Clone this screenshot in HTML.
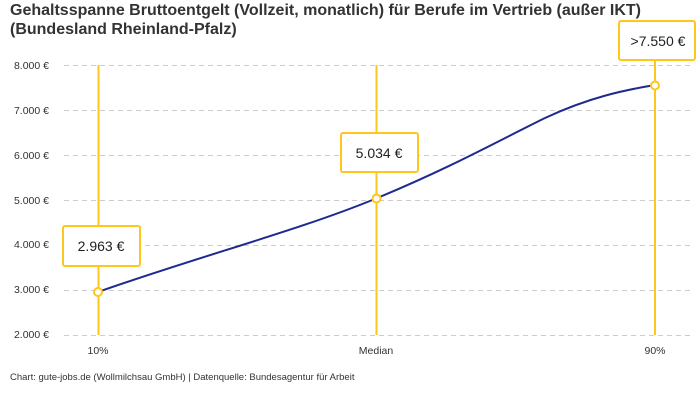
<!DOCTYPE html>
<html><head><meta charset="utf-8"><style>
body{margin:0;background:#fff;}
svg{display:block;font-family:"Liberation Sans",sans-serif;}
</style></head><body>
<svg width="700" height="400" viewBox="0 0 700 400">
<text x="10" y="15" font-size="16" font-weight="bold" fill="#333" textLength="631" lengthAdjust="spacingAndGlyphs">Gehaltsspanne Bruttoentgelt (Vollzeit, monatlich) für Berufe im Vertrieb (außer IKT)</text>
<text x="10" y="34" font-size="16" font-weight="bold" fill="#333">(Bundesland Rheinland-Pfalz)</text>
<g stroke="#ccc" stroke-dasharray="5,4" stroke-width="1">
<line x1="64" x2="690" y1="65.5" y2="65.5"/><line x1="64" x2="690" y1="110.5" y2="110.5"/>
<line x1="64" x2="690" y1="155.5" y2="155.5"/><line x1="64" x2="690" y1="200.5" y2="200.5"/>
<line x1="64" x2="690" y1="245.5" y2="245.5"/><line x1="64" x2="690" y1="290.5" y2="290.5"/>
<line x1="64" x2="690" y1="335.5" y2="335.5"/>
</g>
<g font-size="10.5" fill="#333" text-anchor="end">
<text x="49" y="69">8.000 €</text><text x="49" y="114">7.000 €</text><text x="49" y="159">6.000 €</text>
<text x="49" y="204">5.000 €</text><text x="49" y="248">4.000 €</text><text x="49" y="293">3.000 €</text>
<text x="49" y="338">2.000 €</text>
</g>
<g stroke="#FFC61E" stroke-width="2">
<line x1="98.5" x2="98.5" y1="65" y2="335"/><line x1="376.5" x2="376.5" y1="65" y2="335"/><line x1="655" x2="655" y1="60" y2="335"/>
</g>
<path d="M98,292 C200,256 300,230 376,198.5 C450,168 500,140 545,118 C590,97 625,90 655,85" fill="none" stroke="#1f2a8f" stroke-width="2"/>
<g fill="#fff" stroke="#FFC61E" stroke-width="2">
<circle cx="98" cy="292" r="4"/><circle cx="376.5" cy="198.5" r="4"/><circle cx="655" cy="85.5" r="4"/>
<rect x="63" y="226" width="77" height="40" rx="2"/>
<rect x="341" y="133" width="77" height="39" rx="2"/>
<rect x="619" y="21" width="76" height="39" rx="2"/>
</g>
<g font-size="14" fill="#222" text-anchor="middle">
<text x="101" y="251">2.963 €</text><text x="379" y="158">5.034 €</text><text x="658" y="46">&gt;7.550 €</text>
</g>
<g font-size="10.5" fill="#333" text-anchor="middle">
<text x="98" y="354">10%</text><text x="376" y="354">Median</text><text x="655" y="354">90%</text>
</g>
<text x="10" y="380" font-size="9.5" fill="#333">Chart: gute-jobs.de (Wollmilchsau GmbH) | Datenquelle: Bundesagentur für Arbeit</text>
</svg>
</body></html>
